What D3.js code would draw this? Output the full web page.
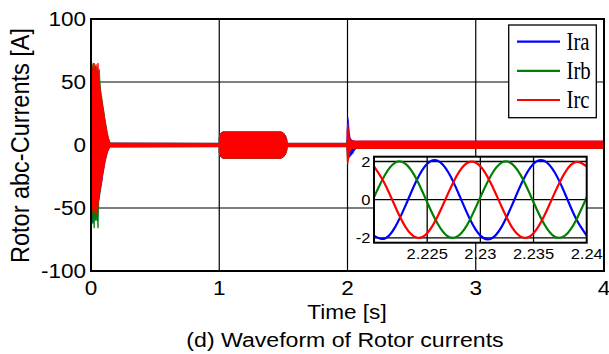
<!DOCTYPE html>
<html><head><meta charset="utf-8">
<script src="https://cdn.jsdelivr.net/npm/d3@7/dist/d3.min.js"></script>
<style>html,body{margin:0;padding:0;background:#fff;}svg{display:block;}</style>
</head><body>
<svg id="c" width="609" height="354"></svg>
<script>
// ---------- data ----------
const seriesNames = ["Ira", "Irb", "Irc"];
const seriesColors = ["#0000ff", "#008000", "#ff0000"];
const xTicks = [0, 1, 2, 3, 4];
const yTicks = [-100, -50, 0, 50, 100];
const insetXTicks = [2.225, 2.23, 2.235, 2.24];
const insetYTicks = [-2, 0, 2];

// start-up transient envelope (0 - 0.15 s)
const tStart = [0,.005,.01,.015,.02,.025,.03,.035,.04,.045,.05,.055,.06,.065,.07,.075,.08,.085,.09,.095,.10,.105,.11,.115,.12,.125,.13,.135,.14,.145,.15];
const iraStartHi = [58,60,55,57,60,60,50,55,58,52,55,58,48,48,44,40,36,33,30,27,24,21,18,15,12,9,7,5,4,2.5,1.5];
const iraStartLo = [-60,-63,-62,-58,-60,-54,-57,-59,-52,-58,-60,-50,-44,-42,-38,-35,-32,-29,-25,-22,-19,-16,-13,-11,-9,-7,-5,-4,-3,-2,-1.5];
const irbStartHi = [63,66,60,64,65,60,62,63,60,56,62,55,58,60,50,44,40,37,33,30,27,23,20,17,14,11,8,6,4,2.5,1.5];
const irbStartLo = [-55,-58,-50,-62,-60,-66,-55,-60,-52,-60,-58,-66,-45,-41,-37,-33,-30,-27,-23,-20,-17,-14,-12,-10,-8,-6,-5,-4,-3,-2,-1.5];
const ircStartHi = [60,64,62,58,63,65,52,60,64,55,58,65,50,52,46,42,38,36,32,29,26,22,19,16,13,10,8,6,4,2.5,1.5];
const ircStartLo = [-50,-55,-45,-52,-56,-48,-53,-50,-44,-55,-52,-48,-42,-40,-37,-34,-31,-28,-24,-21,-19,-16,-13,-11,-9,-7,-5,-4,-3,-2,-1.5];

// quiet level between events
const quietHi = 1.3, quietLo = -1.3;
const tQuiet1 = 0.995, tQuiet2 = 1.99;

// 1.0 - 1.53 s band
const tBand = [1.0,1.0,1.005,1.015,1.03,1.48,1.50,1.515,1.525,1.53];
const bandHi = [1.3,6,8,9.5,10.4,10.4,9.5,7.5,5,1.3];
const bandLo = [-1.3,-6,-8,-9.5,-10.6,-10.6,-9.5,-7.5,-5,-1.3];

// step at 2 s
const tSpike = [1.995,1.998,2.002,2.008,2.014,2.02,2.03,2.04,2.05,2.06,2.07,2.08];
const iraSpikeHi = [1.3,14,22,18,10,6,4,3.5,3.2,3.0,3.0,3.0];
const iraSpikeLo = [-1.3,-4,-8,-10,-10,-9,-8,-7,-5,-3.5,-2.8,-2.8];
const irbSpikeHi = [1.3,4,8,6,4,3.5,3,2.8,2.8,2.8,2.8,2.8];
const irbSpikeLo = [-1.3,-8,-12,-9,-6,-4,-3,-2.8,-2.7,-2.7,-2.7,-2.7];
const ircSpikeHi = [1.3,12,17,12,7,5,4,3.5,3.2,3.2,3.2,3.2];
const ircSpikeLo = [-1.3,-12,-15,-12,-7,-5,-3.5,-3,-2.8,-2.7,-2.7,-2.7];
const tEnd = 4.0;
const endHi = [3.0, 2.8, 3.2], endLo = [-2.8, -2.7, -2.7];

// inset (zoom 2.22 - 2.24 s)
const tInset = [2.220,2.221,2.222,2.223,2.224,2.225,2.226,2.227,2.228,2.229,2.230,2.231,2.232,2.233,2.234,2.235,2.236,2.237,2.238,2.239,2.240];
const iraInset = [-1.88,-2.04,-1.42,-0.26,1.0,1.88,2.04,1.42,0.26,-1.0,-1.88,-2.04,-1.42,-0.26,1.0,1.88,2.04,1.42,0.26,-1.0,-1.88];
const irbInset = [0.13,1.27,1.94,1.86,1.07,-0.13,-1.27,-1.94,-1.86,-1.07,0.13,1.27,1.94,1.86,1.07,-0.13,-1.27,-1.94,-1.86,-1.07,0.13];
const ircInset = [1.75,0.85,-0.37,-1.46,-1.98,-1.75,-0.85,0.37,1.46,1.98,1.75,0.85,-0.37,-1.46,-1.98,-1.75,-0.85,0.37,1.46,1.98,1.75];

// ---------- build envelopes ----------
const startHi = [iraStartHi, irbStartHi, ircStartHi];
const startLo = [iraStartLo, irbStartLo, ircStartLo];
const spikeHi = [iraSpikeHi, irbSpikeHi, ircSpikeHi];
const spikeLo = [iraSpikeLo, irbSpikeLo, ircSpikeLo];
const insetVals = [iraInset, irbInset, ircInset];

function envelope(i) {
  const pts = [];
  tStart.forEach((t, k) => pts.push({t, hi: startHi[i][k], lo: startLo[i][k]}));
  pts.push({t: tQuiet1, hi: quietHi, lo: quietLo});
  tBand.forEach((t, k) => pts.push({t, hi: bandHi[k], lo: bandLo[k]}));
  pts.push({t: tQuiet2, hi: quietHi, lo: quietLo});
  tSpike.forEach((t, k) => pts.push({t, hi: spikeHi[i][k], lo: spikeLo[i][k]}));
  pts.push({t: tEnd, hi: endHi[i], lo: endLo[i]});
  return pts;
}

// ---------- drawing ----------
const svg = d3.select("#c");
const FONT = "Arial, 'Liberation Sans', sans-serif";
const SX = 1.1; // horizontal stretch of the reference text

const x = d3.scaleLinear().domain([0, 4]).range([91, 604]);
const y = d3.scaleLinear().domain([-100, 100]).range([271, 19]);

svg.append("defs").append("clipPath").attr("id", "pc")
  .append("rect").attr("x", x(0)).attr("y", y(100))
  .attr("width", x(4) - x(0)).attr("height", y(-100) - y(100));

// grid
const grid = svg.append("g").attr("stroke", "#000").attr("stroke-width", 1.2);
xTicks.slice(1, -1).forEach(v => grid.append("line")
  .attr("x1", x(v)).attr("x2", x(v)).attr("y1", y(100)).attr("y2", y(-100)));
yTicks.slice(1, -1).forEach(v => grid.append("line")
  .attr("x1", x(0)).attr("x2", x(4)).attr("y1", y(v)).attr("y2", y(v)));

// data envelopes
const area = d3.area().x(d => x(d.t)).y0(d => y(d.lo)).y1(d => y(d.hi));
const dataG = svg.append("g").attr("clip-path", "url(#pc)");
seriesNames.forEach((n, i) => {
  dataG.append("path").datum(envelope(i)).attr("d", area)
    .attr("fill", seriesColors[i]).attr("stroke", seriesColors[i]).attr("stroke-width", 0.8);
});

// frame
svg.append("rect").attr("x", x(0)).attr("y", y(100))
  .attr("width", x(4) - x(0)).attr("height", y(-100) - y(100))
  .attr("fill", "none").attr("stroke", "#000").attr("stroke-width", 2);

function stretchedText(g, str, tx, ty, size, anchor) {
  return g.append("text").text(str)
    .attr("transform", `translate(${tx},${ty}) scale(${SX},1)`)
    .attr("text-anchor", anchor).attr("font-family", FONT)
    .attr("font-size", size).attr("fill", "#000");
}

// tick labels
yTicks.forEach(v => stretchedText(svg, String(v), 86, y(v) + 7.3, 20.5, "end"));
xTicks.forEach(v => stretchedText(svg, String(v), x(v), 295, 20.5, "middle"));

// axis titles
stretchedText(svg, "Time [s]", 347, 319, 20.5, "middle");
stretchedText(svg, "(d) Waveform of Rotor currents", 345, 347, 21, "middle");
svg.append("text").text("Rotor abc-Currents [A]")
  .attr("transform", `translate(28.5,${(y(100) + y(-100)) / 2 + 0.5}) scale(${SX},1) rotate(-90)`)
  .attr("text-anchor", "middle").attr("font-family", FONT).attr("font-size", 23.5);

// legend
const lg = svg.append("g");
lg.append("rect").attr("x", 508.7).attr("y", 25).attr("width", 87.6).attr("height", 92.7)
  .attr("fill", "#fff").attr("stroke", "#000").attr("stroke-width", 1.3);
const rowY = d3.scalePoint().domain(seriesNames).range([41.7, 100]);
seriesNames.forEach((n, i) => {
  lg.append("line").attr("x1", 517).attr("x2", 560).attr("y1", rowY(n)).attr("y2", rowY(n))
    .attr("stroke", seriesColors[i]).attr("stroke-width", 2.2);
  lg.append("text").text(n)
    .attr("transform", `translate(566.5,${rowY(n) + 8.3}) scale(0.85,1)`)
    .attr("font-family", "'Liberation Serif', 'Times New Roman', serif")
    .attr("font-size", 24.5).attr("fill", "#000");
});

// inset
const xi = d3.scaleLinear().domain([2.22, 2.24]).range([374, 586.7]);
const yi = d3.scaleLinear().domain([-2.25, 2.25]).range([242.7, 156.7]);
const ig = svg.append("g");
ig.append("rect").attr("x", xi(2.22)).attr("y", yi(2.25))
  .attr("width", xi(2.24) - xi(2.22)).attr("height", yi(-2.25) - yi(2.25))
  .attr("fill", "#fff");
svg.append("defs").append("clipPath").attr("id", "ic")
  .append("rect").attr("x", xi(2.22)).attr("y", yi(2.25))
  .attr("width", xi(2.24) - xi(2.22)).attr("height", yi(-2.25) - yi(2.25));
const igrid = ig.append("g").attr("stroke", "#000").attr("stroke-width", 1.3);
insetXTicks.slice(0, -1).forEach(v => igrid.append("line")
  .attr("x1", xi(v)).attr("x2", xi(v)).attr("y1", yi(2.25)).attr("y2", yi(-2.25)));
insetYTicks.forEach(v => igrid.append("line")
  .attr("x1", xi(2.22)).attr("x2", xi(2.24)).attr("y1", yi(v)).attr("y2", yi(v)));
const line = d3.line().x((d, k) => xi(tInset[k])).y(d => yi(d)).curve(d3.curveNatural);
const idata = ig.append("g").attr("clip-path", "url(#ic)");
seriesNames.forEach((n, i) => {
  idata.append("path").datum(insetVals[i]).attr("d", line)
    .attr("fill", "none").attr("stroke", seriesColors[i]).attr("stroke-width", 2.2);
});
ig.append("rect").attr("x", xi(2.22)).attr("y", yi(2.25))
  .attr("width", xi(2.24) - xi(2.22)).attr("height", yi(-2.25) - yi(2.25))
  .attr("fill", "none").attr("stroke", "#000").attr("stroke-width", 2);
insetYTicks.forEach(v => stretchedText(ig, String(v), 370.5, yi(v) + 5.4, 15, "end"));
insetXTicks.forEach(v => stretchedText(ig, String(v), xi(v), 259, 15, "middle"));
</script>
</body></html>
